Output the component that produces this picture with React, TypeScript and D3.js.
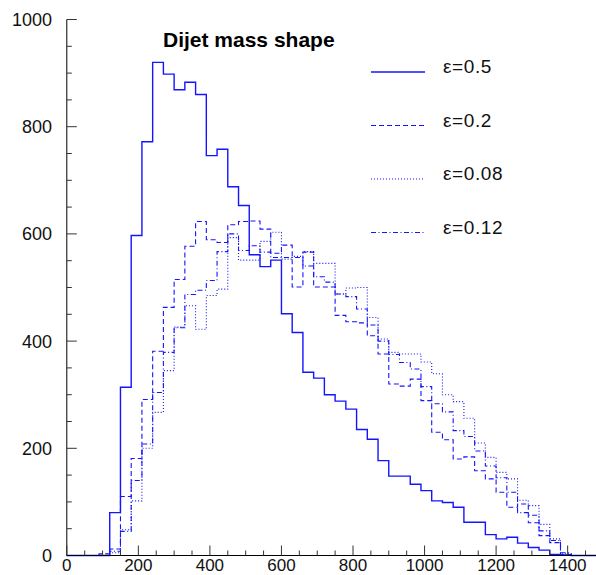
import React from "react";
import * as d3 from "d3";

// Histogram bins: lower edges (GeV), width 30
const binLow: number[] = d3.range(0, 1500, 30);

const eps05: number[] = [
  0, 0, 0, 0, 80, 314, 597, 772, 920, 898,
  869, 883, 860, 746, 758, 688, 653, 561, 539, 551,
  451, 416, 342, 331, 300, 288, 273, 235, 217, 177,
  148, 148, 133, 121, 102, 99, 90, 62, 62, 39,
  31, 34, 23, 15, 10, 2, 1, 0, 0, 0,
];
const eps02: number[] = [
  0, 0, 0, 3, 12, 110, 181, 291, 381, 463,
  515, 577, 623, 589, 584, 617, 623, 624, 609, 564,
  579, 501, 566, 501, 501, 448, 436, 434, 410, 376,
  320, 316, 329, 289, 230, 216, 180, 184, 158, 143,
  118, 90, 96, 61, 37, 24, 2, 0, 0, 0,
];
const eps008: number[] = [
  0, 0, 0, 0, 5, 48, 102, 200, 267, 345,
  426, 466, 422, 485, 497, 593, 551, 551, 586, 603,
  553, 558, 567, 545, 545, 488, 499, 500, 444, 404,
  379, 376, 376, 361, 339, 300, 287, 256, 210, 183,
  155, 143, 103, 93, 58, 31, 3, 0, 0, 0,
];
const eps012: number[] = [
  0, 0, 0, 0, 8, 45, 140, 208, 304, 379,
  425, 487, 495, 513, 567, 600, 569, 578, 566, 556,
  556, 556, 540, 520, 510, 488, 483, 460, 430, 400,
  375, 360, 348, 315, 283, 268, 233, 222, 195, 167,
  145, 118, 80, 75, 46, 28, 5, 0, 0, 0,
];

const seriesLabels = ["ε=0.5", "ε=0.2", "ε=0.08", "ε=0.12"];
const xTickLabels = [0, 200, 400, 600, 800, 1000, 1200, 1400];
const yTickLabels = [0, 200, 400, 600, 800, 1000];
const titleText = "Dijet mass shape";

const W = 596;
const H = 575;
const X0 = 66.8;
const PX200 = 71.55;
const x = d3.scaleLinear().domain([0, 1500]).range([X0, X0 + 7.5 * PX200]);
const y = d3.scaleLinear().domain([0, 1000]).range([555.5, 19.5]);

const BLUE = "#1414ff";
const FONT = "'Liberation Sans', Arial, Helvetica, sans-serif";

function stepPath(vals: number[]): string {
  const pts: [number, number][] = vals.map((v, i) => [binLow[i], v]);
  pts.push([binLow[binLow.length - 1] + 30, vals[vals.length - 1]]);
  return (
    d3
      .line<[number, number]>()
      .x((d) => x(d[0]))
      .y((d) => y(d[1]))
      .curve(d3.curveStepAfter)(pts) || ""
  );
}

const seriesList = [
  { vals: eps05, dash: undefined as string | undefined, w: 1.4 },
  { vals: eps02, dash: "5,3", w: 1.1 },
  { vals: eps008, dash: "1,2", w: 1.1 },
  { vals: eps012, dash: "5,2.5,1,2.5", w: 1.1 },
];

export default function App() {
  const xMinor = d3.range(0, 1501, 50);
  const yMinor = d3.range(0, 1001, 50);
  const drawOrder = [2, 3, 1, 0];
  const legendY = [72, 125.5, 179, 232.5];
  return (
    <svg
      width={W}
      height={H}
      style={{ position: "absolute", left: 0, top: 0, background: "#fff" }}
    >
      <rect x={0} y={0} width={W} height={H} fill="#fff" />
      {/* histograms */}
      {drawOrder.map((si) => {
        const s = seriesList[si];
        return (
          <path
            key={si}
            d={stepPath(s.vals)}
            fill="none"
            stroke={BLUE}
            strokeWidth={s.w}
            strokeDasharray={s.dash}
          />
        );
      })}
      {/* y axis */}
      <line x1={X0} x2={X0} y1={y(0)} y2={y(1000)} stroke="#000" strokeWidth={1} />
      {yMinor.map((v) => (
        <line
          key={"yt" + v}
          x1={X0}
          x2={X0 + (v % 200 === 0 ? 10 : 5)}
          y1={y(v)}
          y2={y(v)}
          stroke="#333"
          strokeWidth={1}
        />
      ))}
      {yTickLabels.map((v) => (
        <text
          key={"yl" + v}
          x={52}
          y={y(v)}
          dy="0.36em"
          textAnchor="end"
          fontFamily={FONT}
          fontSize={18}
          fill="#111"
        >
          {v}
        </text>
      ))}
      {/* x axis */}
      <line x1={X0} x2={x(1500)} y1={y(0)} y2={y(0)} stroke="#000" strokeWidth={1} />
      {xMinor.map((v) => (
        <line
          key={"xt" + v}
          x1={x(v)}
          x2={x(v)}
          y1={y(0)}
          y2={y(0) - (v % 200 === 0 ? 10 : 5)}
          stroke="#333"
          strokeWidth={1}
        />
      ))}
      {xTickLabels.map((v) => (
        <text
          key={"xl" + v}
          x={x(v)}
          y={571}
          textAnchor="middle"
          fontFamily={FONT}
          fontSize={17}
          fill="#111"
        >
          {v}
        </text>
      ))}
      {/* title */}
      <text
        x={163}
        y={47}
        fontFamily={FONT}
        fontWeight="bold"
        fontSize={21}
        fill="#000"
      >
        {titleText}
      </text>
      {/* legend */}
      {seriesLabels.map((lab, i) => (
        <g key={"lg" + i}>
          <line
            x1={371}
            x2={425}
            y1={legendY[i]}
            y2={legendY[i]}
            stroke={BLUE}
            strokeWidth={seriesList[i].w}
            strokeDasharray={seriesList[i].dash}
          />
          <text
            x={443}
            y={legendY[i] + 1.3}
            fontFamily={FONT}
            fontSize={19}
            letterSpacing={0.6}
            fill="#111"
          >
            {lab}
          </text>
        </g>
      ))}
    </svg>
  );
}
